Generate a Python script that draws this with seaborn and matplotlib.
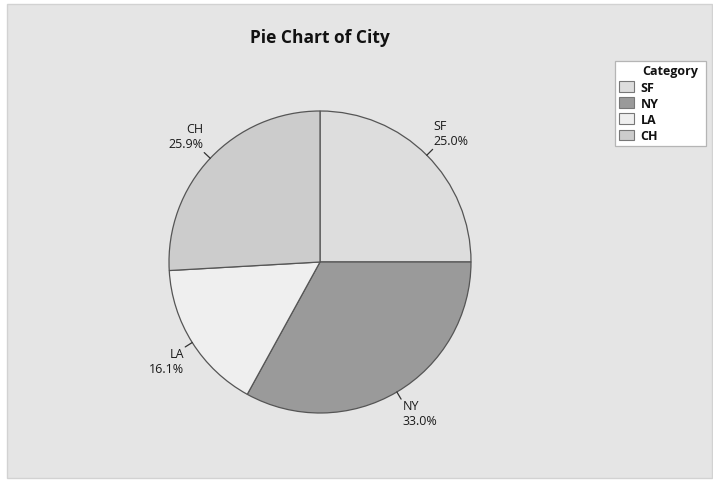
import numpy as np
import matplotlib
matplotlib.use("Agg")
import matplotlib.pyplot as plt
from matplotlib.patches import Rectangle, Patch
import seaborn as sns

# ---- data ----
categories = ["SF", "NY", "LA", "CH"]
percents = [25.0, 33.0, 16.1, 25.9]
colors = ["#dddddd", "#9a9a9a", "#efefef", "#cccccc"]
title = "Pie Chart of City"
legend_title = "Category"

sns.set_style("white")
plt.rcParams["font.family"] = ["Open Sans", "DejaVu Sans"]

W, H = 713, 481
fig = plt.figure(figsize=(W / 100, H / 100), dpi=100)
fig.patch.set_facecolor("white")

# gray panel
fig.add_artist(Rectangle((7 / W, 1 - 479 / H), (712 - 7) / W, (479 - 5) / H,
                         transform=fig.transFigure, facecolor="#e5e5e5",
                         edgecolor="#d2d2d2", lw=1.0, zorder=0))

# pie axes: center (320,263) px, radius 151 px
cx, cy, R = 320, 263, 151
ax = fig.add_axes([(cx - R) / W, 1 - (cy + R) / H, 2 * R / W, 2 * R / H])

wedges, _ = ax.pie(percents, colors=colors, startangle=90, counterclock=False,
                   radius=1.0, wedgeprops=dict(edgecolor="#555555", linewidth=0.9))
ax.set_xlim(-1, 1)
ax.set_ylim(-1, 1)
ax.set_aspect("equal")
ax.axis("off")

# labels with short leader ticks
for w, cat, p in zip(wedges, categories, percents):
    ang = np.deg2rad((w.theta1 + w.theta2) / 2)
    c, s = np.cos(ang), np.sin(ang)
    x0, y0 = c * 1.0, s * 1.0
    x1, y1 = c * 1.055, s * 1.055
    ax.plot([x0, x1], [y0, y1], color="#333333", lw=0.9, clip_on=False)
    ha = "left" if c > 0 else "right"
    va = "bottom" if s > 0 else "top"
    dx = 0.008 if c > 0 else -0.008
    dy = 0.015 if s > 0 else 0.0
    ax.text(x1 + dx, y1 + dy, f"{cat}\n{p:.1f}%", ha=ha, va=va,
            multialignment=ha, fontsize=9, color="#1a1a1a",
            linespacing=1.2, clip_on=False)

fig.text(320 / W, 1 - 38 / H, title, ha="center", va="center",
         fontsize=12.5, fontweight="bold", color="#111111")

# legend box spanning x 615..706, y 62..146 px
handles = [Patch(facecolor=col, edgecolor="#777777", linewidth=0.8) for col in colors]
leg = fig.legend(handles, categories, title=" ", loc="upper left",
                 bbox_to_anchor=(615 / W, 1 - 146 / H, 91 / W, 84 / H),
                 mode="expand", borderaxespad=0, framealpha=1.0,
                 frameon=True, fancybox=False, fontsize=9,
                 title_fontsize=9, handlelength=1.2, handleheight=0.95,
                 handletextpad=0.55, labelspacing=0.25, borderpad=0.3)
leg.get_frame().set_facecolor("white")
leg.get_frame().set_edgecolor("#b5b5b5")
leg.get_frame().set_linewidth(0.9)
for t in leg.get_texts():
    t.set_fontweight("bold")
    t.set_color("#111111")
fig.text(642 / W, 1 - 72 / H, legend_title, ha="left", va="center",
         fontsize=9, fontweight="bold", color="#111111", zorder=20)

fig.savefig("out.png", dpi=100)
